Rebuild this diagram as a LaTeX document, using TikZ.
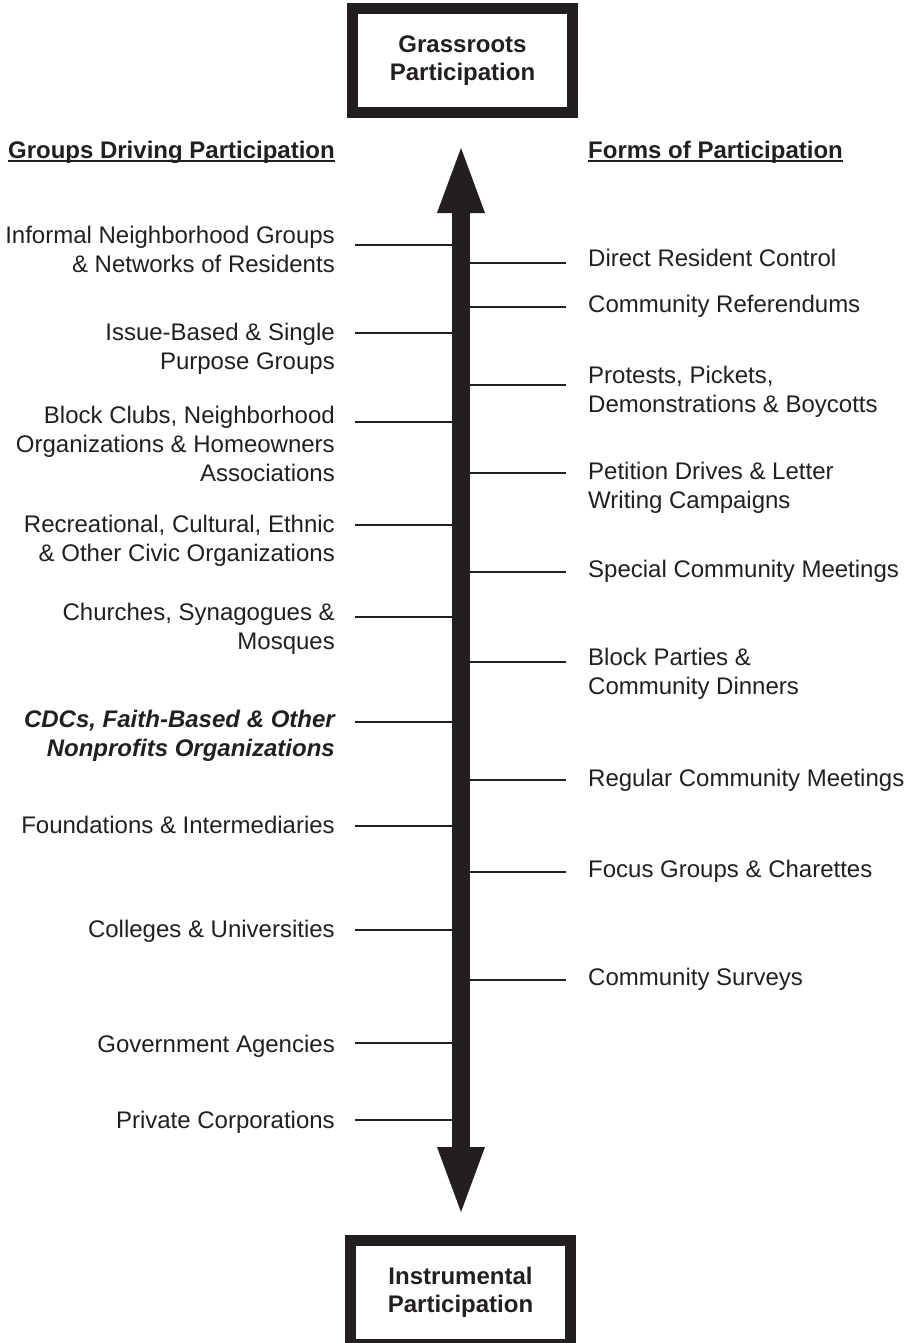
\documentclass[tikz,border=0pt]{standalone}
\usepackage{fontspec}
\setmainfont{Liberation Sans}
\usetikzlibrary{arrows.meta}
\definecolor{ink}{HTML}{231F20}
\begin{document}
\begin{tikzpicture}[x=1pt,y=-1pt,
  lbl/.style={inner sep=0pt, font=\fontsize{24}{29}\selectfont, text=ink},
  lft/.style={lbl, anchor=north east, align=right},
  rgt/.style={lbl, anchor=north west, align=left},
  head/.style={font=\bfseries\fontsize{24}{29}\selectfont},
  rung/.style={draw=ink, line width=2pt},
  uline/.style={draw=ink, line width=2.2pt},
  endbox/.style={draw=ink, line width=11pt, minimum width=220pt, minimum height=104pt,
    inner sep=0pt, align=center, text=ink, font=\bfseries\fontsize{24}{27.5}\selectfont},
  bigarrow/.style={draw=ink, line width=18pt,
    {Triangle[width=48pt,length=65pt,line width=0pt]}-{Triangle[width=48pt,length=65pt,line width=0pt]}}
]
\useasboundingbox (0,0) rectangle (909,1343);
\clip (0,0) rectangle (909,1343);

% end boxes
\node[endbox] (top) at (462.5,60.5) {Grassroots\\Participation};
\node[endbox] (bot) at (460.5,1292.5) {Instrumental\\Participation};

% headings
\node[lbl, head, anchor=north east] (gdp) at (335,140.7) {Groups Driving Participation};
\node[lbl, head, anchor=north west] (fop) at (588,140.7) {Forms of Participation};
\draw[uline] ([yshift=-3pt]gdp.base west) -- ([yshift=-3pt]gdp.base east);
\draw[uline] ([yshift=-3pt]fop.base west) -- ([yshift=-3pt]fop.base east);

% left labels (first baseline - 17.3)
\node[lft] (L1) at (335,225.7) {Informal Neighborhood Groups\\\& Networks of Residents};
\node[lft] (L2) at (335,322.7) {Issue-Based \& Single\\Purpose Groups};
\node[lft] (L3) at (335,405.7) {Block Clubs, Neighborhood\\Organizations \& Homeowners\\Associations};
\node[lft] (L4) at (335,514.7) {Recreational, Cultural, Ethnic\\\& Other Civic Organizations};
\node[lft] (L5) at (335,602.7) {Churches, Synagogues \&\\Mosques};
\node[lft, font=\bfseries\itshape\fontsize{24}{29}\selectfont] (L6) at (335,709.7) {CDCs, Faith-Based \& Other\\Nonprofits Organizations};
\node[lft] (L7) at (335,815.7) {Foundations \& Intermediaries};
\node[lft] (L8) at (335,919.7) {Colleges \& Universities};
\node[lft] (L9) at (335,1034.7) {Government Agencies};
\node[lft] (L10) at (335,1110.7) {Private Corporations};

% right labels
\node[rgt] (R1) at (588,248.7) {Direct Resident Control};
\node[rgt] (R2) at (588,294.7) {Community Referendums};
\node[rgt] (R3) at (588,365.7) {Protests, Pickets,\\Demonstrations \& Boycotts};
\node[rgt] (R4) at (588,461.7) {Petition Drives \& Letter\\Writing Campaigns};
\node[rgt] (R5) at (588,559.7) {Special Community Meetings};
\node[rgt] (R6) at (588,647.7) {Block Parties \&\\Community Dinners};
\node[rgt] (R7) at (588,768.7) {Regular Community Meetings};
\node[rgt] (R8) at (588,859.7) {Focus Groups \& Charettes};
\node[rgt] (R9) at (588,967.7) {Community Surveys};

% points on the shaft
\coordinate (s1) at (461,245);
\coordinate (s2) at (461,333);
\coordinate (s3) at (461,422);
\coordinate (s4) at (461,525);
\coordinate (s5) at (461,617);
\coordinate (s6) at (461,722);
\coordinate (s7) at (461,826);
\coordinate (s8) at (461,930);
\coordinate (s9) at (461,1043);
\coordinate (s10) at (461,1120);
\coordinate (t1) at (461,263);
\coordinate (t2) at (461,307);
\coordinate (t3) at (461,385);
\coordinate (t4) at (461,473);
\coordinate (t5) at (461,572);
\coordinate (t6) at (461,662);
\coordinate (t7) at (461,780);
\coordinate (t8) at (461,872);
\coordinate (t9) at (461,980);

\foreach \i in {1,...,10}{
  \draw[rung, shorten <=20pt] (s\i -| L\i.east) -- (s\i);
}
\foreach \i in {1,...,9}{
  \draw[rung, shorten >=22pt] (t\i) -- (t\i -| R\i.west);
}

% main double arrow
\coordinate (atop) at (461,148);
\coordinate (abot) at (461,1212);
\draw[bigarrow] (abot) -- (atop);
\end{tikzpicture}
\end{document}
